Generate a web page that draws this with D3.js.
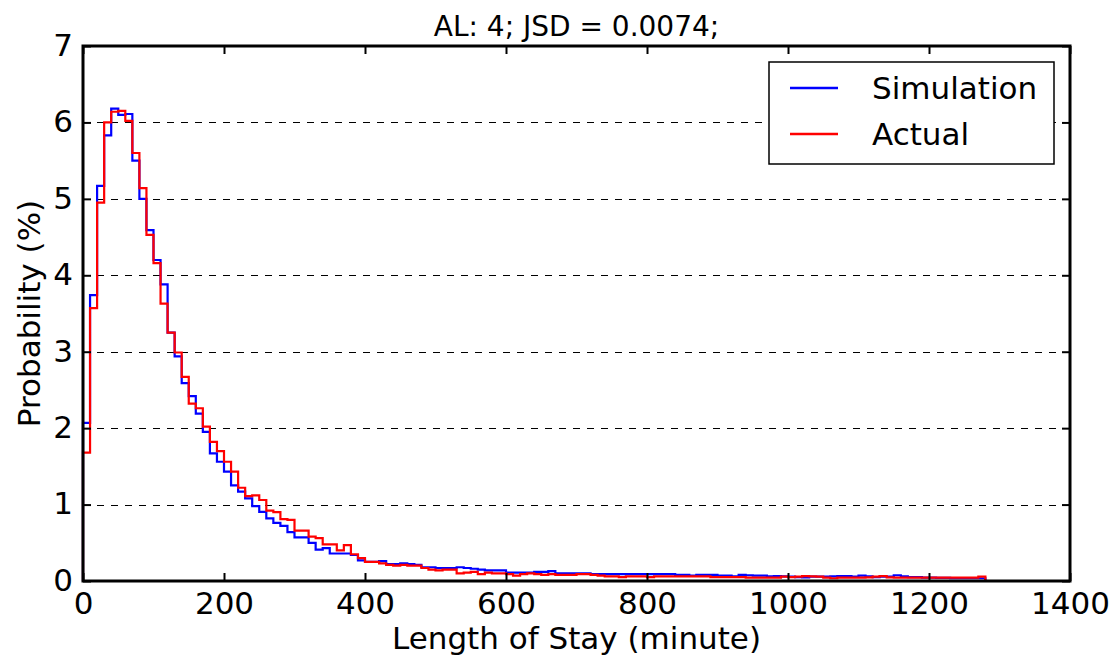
<!DOCTYPE html>
<html>
<head>
<meta charset="utf-8">
<script src="https://cdn.jsdelivr.net/npm/d3@7"></script>
<style>
  body { margin: 0; background: #fff; }
  svg { display: block; font-family: "DejaVu Sans", sans-serif; }
</style>
</head>
<body>
<div id="chart"></div>
<script>
// bin width 10 minutes, bins start at 0
let binWidth = 10

let simulation = [
  2.07, 3.74, 5.17, 5.83, 6.18, 6.10, 6.11, 5.50, 5.00, 4.59,
  4.20, 3.88, 3.25, 2.94, 2.59, 2.42, 2.19, 1.95, 1.67, 1.56,
  1.43, 1.25, 1.17, 1.08, 0.98, 0.905, 0.82, 0.76, 0.72, 0.64,
  0.57, 0.57, 0.50, 0.41, 0.43, 0.36, 0.36, 0.36, 0.34, 0.27,
  0.25, 0.25, 0.26, 0.22, 0.22, 0.23, 0.22, 0.21, 0.18, 0.18,
  0.17, 0.17, 0.17, 0.18, 0.17, 0.16, 0.15, 0.14, 0.14, 0.14,
  0.11, 0.11, 0.11, 0.11, 0.12, 0.12, 0.13, 0.10, 0.10, 0.10,
  0.10, 0.10, 0.09, 0.09, 0.09, 0.09, 0.09, 0.09, 0.09, 0.09,
  0.09, 0.09, 0.09, 0.09, 0.08, 0.08, 0.07, 0.08, 0.08, 0.08,
  0.07, 0.07, 0.06, 0.08, 0.075, 0.07, 0.07, 0.06, 0.065, 0.06,
  0.057, 0.05, 0.048, 0.057, 0.057, 0.057, 0.06, 0.065, 0.065, 0.057,
  0.07, 0.06, 0.05, 0.057, 0.057, 0.075, 0.06, 0.05, 0.05, 0.045,
  0.045, 0.04, 0.04, 0.036, 0.036, 0.036, 0.036, 0.036
]

let actual = [
  1.68, 3.57, 4.95, 6.00, 6.14, 6.15, 6.02, 5.60, 5.14, 4.53,
  4.16, 3.63, 3.25, 2.99, 2.67, 2.32, 2.26, 2.02, 1.82, 1.70,
  1.56, 1.43, 1.22, 1.11, 1.12, 1.06, 0.92, 0.90, 0.81, 0.80,
  0.66, 0.66, 0.58, 0.56, 0.48, 0.48, 0.40, 0.47, 0.35, 0.30,
  0.25, 0.25, 0.23, 0.21, 0.20, 0.21, 0.20, 0.20, 0.17, 0.15,
  0.14, 0.15, 0.15, 0.10, 0.11, 0.12, 0.09, 0.11, 0.10, 0.10,
  0.09, 0.07, 0.09, 0.10, 0.09, 0.08, 0.09, 0.08, 0.08, 0.08,
  0.09, 0.09, 0.08, 0.07, 0.06, 0.06, 0.05, 0.06, 0.06, 0.06,
  0.05, 0.06, 0.06, 0.06, 0.06, 0.06, 0.06, 0.06, 0.06, 0.05,
  0.05, 0.05, 0.05, 0.05, 0.045, 0.045, 0.045, 0.045, 0.045, 0.057,
  0.05, 0.057, 0.065, 0.06, 0.057, 0.045, 0.036, 0.045, 0.045, 0.045,
  0.045, 0.048, 0.057, 0.065, 0.048, 0.045, 0.045, 0.045, 0.045, 0.045,
  0.045, 0.045, 0.045, 0.045, 0.045, 0.045, 0.045, 0.057
]

let xTicks = [0, 200, 400, 600, 800, 1000, 1200, 1400]
let yTicks = [0, 1, 2, 3, 4, 5, 6, 7]
let gridValues = [1, 2, 3, 4, 5, 6]

let series = [
  { name: 'Simulation', color: '#0000ff', values: simulation },
  { name: 'Actual', color: '#ff0000', values: actual }
]

let margin = { top: 46, left: 83, right: 43, bottom: 79 }
let width = 1113 - margin.left - margin.right
let height = 660 - margin.top - margin.bottom

let svg = d3
  .select('#chart')
  .append('svg')
  .attr('width', 1113)
  .attr('height', 660)

let g = svg
  .append('g')
  .attr('transform', 'translate(' + margin.left + ',' + margin.top + ')')

let x = d3.scaleLinear().domain([0, 1400]).range([0, width])
let y = d3.scaleLinear().domain([0, 7]).range([height, 0])

// dashed horizontal grid
g.selectAll('.grid')
  .data(gridValues)
  .enter()
  .append('line')
  .attr('class', 'grid')
  .attr('x1', 0)
  .attr('x2', width)
  .attr('y1', d => Math.round(y(d)) + 0.5)
  .attr('y2', d => Math.round(y(d)) + 0.5)
  .attr('stroke', '#000')
  .attr('stroke-width', 1)
  .attr('stroke-dasharray', '7,7')

// step outlines, like hist(histtype='step')
let line = d3
  .line()
  .x(d => x(d[0]))
  .y(d => y(d[1]))
  .curve(d3.curveStepAfter)

series.forEach(s => {
  let pts = [[0, 0]]
  s.values.forEach((v, i) => pts.push([i * binWidth, v]))
  let end = s.values.length * binWidth
  pts.push([end, s.values[s.values.length - 1]])
  pts.push([end, 0])
  g.append('path')
    .datum(pts)
    .attr('d', line)
    .attr('fill', 'none')
    .attr('stroke', s.color)
    .attr('stroke-width', 2.2)
})

// axes, ticks pointing inward on all four sides
let fontSize = 31

let xBottom = g
  .append('g')
  .attr('transform', 'translate(0,' + height + ')')
  .call(d3.axisBottom(x).tickValues(xTicks).tickSize(-8).tickPadding(10).tickFormat(d3.format('d')))
let xTop = g.append('g').call(d3.axisTop(x).tickValues(xTicks).tickSize(-8).tickFormat(''))
let yLeft = g
  .append('g')
  .call(d3.axisLeft(y).tickValues(yTicks).tickSize(-8).tickPadding(10).tickFormat(d3.format('d')))
let yRight = g
  .append('g')
  .attr('transform', 'translate(' + width + ',0)')
  .call(d3.axisRight(y).tickValues(yTicks).tickSize(-8).tickFormat(''))

;[xBottom, xTop, yLeft, yRight].forEach(a => {
  a.select('.domain').remove()
  a.selectAll('.tick line').attr('stroke', '#000').attr('stroke-width', 2)
  a.selectAll('.tick text')
    .attr('font-size', fontSize)
    .attr('font-family', '"DejaVu Sans", sans-serif')
    .attr('fill', '#000')
})
xBottom.selectAll('.tick text').attr('dy', '0.75em')
yLeft.selectAll('.tick text').attr('dy', '0.3em')

// frame
g.append('rect')
  .attr('x', 0)
  .attr('y', 0)
  .attr('width', width)
  .attr('height', height)
  .attr('fill', 'none')
  .attr('stroke', '#000')
  .attr('stroke-width', 3)

// legend
let legend = svg.append('g').attr('transform', 'translate(769,62)')
legend
  .append('rect')
  .attr('width', 285)
  .attr('height', 102)
  .attr('fill', '#fff')
  .attr('stroke', '#000')
  .attr('stroke-width', 1.5)

series.forEach((s, i) => {
  let ly = 26 + i * 46
  legend
    .append('line')
    .attr('x1', 21)
    .attr('x2', 69)
    .attr('y1', ly)
    .attr('y2', ly)
    .attr('stroke', s.color)
    .attr('stroke-width', 2.5)
  legend
    .append('text')
    .attr('x', 103)
    .attr('y', ly + 11)
    .attr('font-size', fontSize)
    .text(s.name)
})

// titles
svg
  .append('text')
  .attr('x', margin.left + width / 2)
  .attr('y', 36)
  .attr('text-anchor', 'middle')
  .attr('font-size', 28)
  .text('AL: 4; JSD = 0.0074;')

svg
  .append('text')
  .attr('x', margin.left + width / 2)
  .attr('y', 649)
  .attr('text-anchor', 'middle')
  .attr('font-size', fontSize)
  .text('Length of Stay (minute)')

svg
  .append('text')
  .attr('transform', 'translate(40,' + (margin.top + height / 2) + ') rotate(-90)')
  .attr('text-anchor', 'middle')
  .attr('font-size', fontSize)
  .text('Probability (%)')
</script>
</body>
</html>
